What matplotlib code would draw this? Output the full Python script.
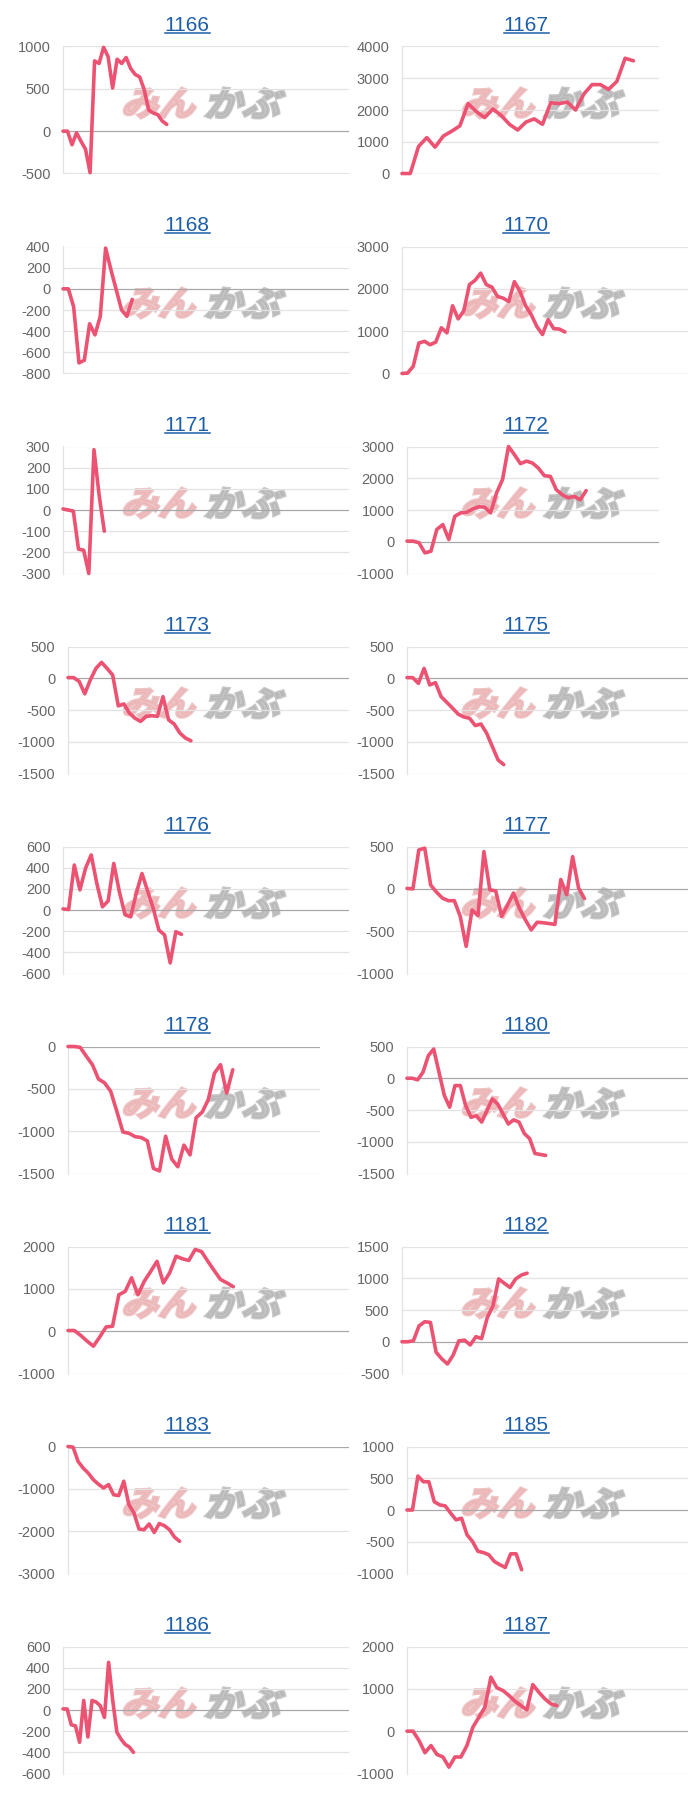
import numpy as np
import matplotlib
matplotlib.use("Agg")
import matplotlib.pyplot as plt
from matplotlib.textpath import TextPath
from matplotlib.patches import PathPatch
from matplotlib.font_manager import FontProperties
from matplotlib.transforms import Affine2D

plt.rcParams['font.family'] = ['Liberation Sans', 'DejaVu Sans']
plt.rcParams['axes.unicode_minus'] = False

# 銘柄コード (左列→右列, 上から)
codes = ['1166', '1167', '1168', '1170', '1171', '1172', '1173', '1175', '1176',
         '1177', '1178', '1180', '1181', '1182', '1183', '1185', '1186', '1187']

s1166 = [0, 0, -160, -20, -120, -215, -490, 830, 800, 990, 880, 510, 850, 800, 870, 740,
         670, 640, 490, 250, 215, 195, 120, 80]
s1167 = [0, 0, 850, 1130, 830, 1180, 1330, 1500, 2200, 1950, 1760, 2030, 1830, 1550, 1370,
         1620, 1720, 1550, 2230, 2200, 2250, 2000, 2500, 2800, 2800, 2650, 2900, 3630, 3550]
s1168 = [0, 0, -170, -700, -675, -330, -435, -260, 385, 180, -10, -200, -260, -100]
s1170 = [0, 10, 170, 720, 760, 680, 740, 1080, 960, 1600, 1290, 1480, 2100, 2200, 2370, 2100,
         2040, 1820, 1780, 1700, 2170, 1940, 1600, 1390, 1110, 920, 1270, 1060, 1050, 980]
s1171 = [5, 0, -5, -185, -190, -300, 285, 70, -100]
s1172 = [20, 20, -30, -350, -300, 390, 540, 70, 800, 910, 930, 1030, 1100, 1090, 910, 1540,
         1960, 3000, 2740, 2460, 2540, 2480, 2320, 2080, 2060, 1640, 1480, 1380, 1430, 1320, 1610]
s1173 = [10, 10, -50, -245, -25, 155, 250, 155, 50, -435, -405, -550, -630, -680, -600, -590,
         -600, -290, -655, -720, -860, -940, -985]
s1175 = [10, 10, -80, 155, -105, -70, -290, -380, -470, -565, -610, -630, -745, -720, -865,
         -1075, -1285, -1360]
s1176 = [10, 5, 425, 190, 395, 520, 250, 30, 85, 440, 170, -45, -65, 160, 345, 180, 15, -190,
         -235, -500, -205, -230]
s1177 = [5, 0, 460, 480, 45, -40, -110, -140, -140, -325, -680, -250, -315, 440, -10, -25, -325,
         -190, -50, -230, -365, -485, -395, -400, -410, -420, 110, -70, 380, 10, -115]
s1178 = [0, 0, -10, -115, -215, -385, -430, -530, -765, -1010, -1025, -1065, -1075, -1115,
         -1440, -1470, -1060, -1330, -1420, -1165, -1280, -840, -775, -625, -315, -215, -550, -275]
s1180 = [0, 0, -25, 95, 355, 460, 95, -270, -455, -115, -115, -430, -615, -590, -690, -510,
         -325, -405, -560, -720, -655, -690, -870, -950, -1185, -1200, -1215]
s1181 = [15, 15, -100, -235, -355, -135, 100, 115, 860, 940, 1260, 860, 1180, 1410, 1650, 1140,
         1380, 1770, 1710, 1670, 1930, 1880, 1650, 1430, 1220, 1140, 1050]
s1182 = [0, 0, 15, 250, 315, 305, -165, -270, -350, -210, 15, 25, -50, 80, 50, 380, 565, 990,
         920, 855, 990, 1050, 1080]
s1183 = [0, -15, -355, -510, -630, -785, -890, -980, -900, -1140, -1160, -820, -1370, -1570,
         -1950, -1965, -1830, -2030, -1820, -1870, -1965, -2140, -2240]
s1185 = [0, 0, 535, 445, 445, 130, 80, 65, -50, -155, -130, -390, -495, -650, -670, -705, -810,
         -860, -905, -690, -690, -940]
s1186 = [10, 10, -140, -150, -305, 90, -255, 90, 75, 40, -70, 450, 90, -210, -275, -325, -350, -400]
s1187 = [0, 0, -220, -510, -340, -550, -610, -850, -610, -610, -340, 95, 330, 565, 1275, 1025,
         960, 845, 710, 605, 505, 1100, 920, 765, 645, 605]

series = [s1166, s1167, s1168, s1170, s1171, s1172, s1173, s1175, s1176,
          s1177, s1178, s1180, s1181, s1182, s1183, s1185, s1186, s1187]

# 縦軸の目盛 (下限, 上限, 間隔)
y_min = [-500, 0, -800, 0, -300, -1000, -1500, -1500, -600, -1000, -1500, -1500, -1000, -500, -3000, -1000, -600, -1000]
y_max = [1000, 4000, 400, 3000, 300, 3000, 500, 500, 600, 500, 0, 500, 2000, 1500, 0, 1000, 600, 2000]
y_step = [500, 1000, 200, 1000, 100, 1000, 500, 500, 200, 500, 500, 500, 1000, 500, 1000, 500, 200, 1000]

# 横軸の幅 (点の数に対するグラフ幅)
x_span = [63.4, 31.1, 53.7, 50.9, 55.4, 42.2, 50.3, 49.4, 50.7, 47.5, 41.3, 52.7, 44.2, 50.3, 55.4, 51.5, 69.0, 46.9]
narrow = ['1167', '1172', '1178']

W, H = 700, 1800
LINE = '#ec5272'
GRID = '#e3e3e3'
BASE = '#a8a8a8'
TICK = '#666666'
LINK = '#1c5fa8'
COL_OFF = 339

fig = plt.figure(figsize=(7, 18), dpi=100)
renderer = fig.canvas.get_renderer()
wm_prop = FontProperties(family='Noto Sans CJK JP', weight='bold')


def watermark(text, color, x0, x1, top, bot):
    tp = TextPath((0, 0), text, size=1, prop=wm_prop)
    ext = tp.get_extents()
    h = bot - top
    sh = np.tan(np.radians(16))
    w = (x1 - x0) - h * sh
    tr = (Affine2D().translate(-ext.x0, -ext.y0)
          .scale(w / ext.width, h / ext.height)
          .skew_deg(16, 0)
          .translate(x0, H - bot))
    p = PathPatch(tp, transform=tr, fc=color, ec=color, lw=2.2, alpha=0.75, zorder=-1)
    fig.add_artist(p)


for i, code in enumerate(codes):
    row, col = divmod(i, 2)
    top = 200 * row
    off = COL_OFF * col
    vals = np.array(series[i])
    ticks = np.arange(y_min[i], y_max[i] + 1, y_step[i])
    lab_len = max(len(str(t)) for t in ticks)
    left = 63 + off + (5 if lab_len >= 5 else 0)
    right = (320 if code in narrow else 349) + off
    ax = fig.add_axes([left / W, 1 - (top + 173.5) / H, (right - left) / W, 127 / H])
    ax.set_facecolor('none')

    # 目盛線
    for t in ticks:
        ax.axhline(t, color=BASE if t == 0 else GRID, lw=0.9, zorder=1)
    ax.plot(np.arange(len(vals)), vals, color=LINE, lw=2.6, solid_joinstyle='round',
            solid_capstyle='round', zorder=3, clip_on=False)
    ax.set_xlim(0, x_span[i])
    ax.set_ylim(y_min[i], y_max[i])
    ax.set_yticks(ticks)
    ax.set_yticklabels([str(t) for t in ticks])
    ax.set_xticks([])
    ax.tick_params(axis='y', length=0, pad=9, labelsize=10.5, labelcolor=TICK)
    for s in ['top', 'right', 'bottom']:
        ax.spines[s].set_visible(False)
    ax.spines['left'].set_color(GRID)
    ax.spines['left'].set_linewidth(0.9)

    # タイトル (リンク風に下線)
    cx = 187 + off
    t = fig.text(cx / W, 1 - 31 / H - top / H, code, ha='center', va='baseline',
                 fontsize=15, color=LINK)
    bb = t.get_window_extent(renderer)
    fig.add_artist(plt.Line2D([bb.x0 / W, bb.x1 / W], [1 - (top + 33) / H] * 2,
                              color=LINK, lw=1.1, transform=fig.transFigure))

    # みんかぶ ロゴ
    watermark('みん', '#eab0b2', 122 + off, 201 + off, top + 88, top + 118)
    watermark('かぶ', '#b3b3b3', 205 + off, 287 + off, top + 88, top + 118)

fig.savefig('out.png', dpi=100, facecolor='white')
